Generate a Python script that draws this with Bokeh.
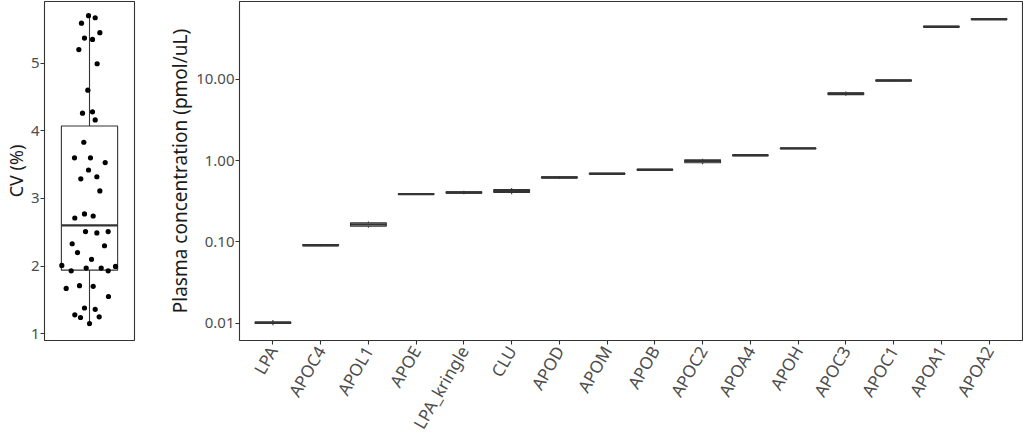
import numpy as np
from bokeh.plotting import figure
from bokeh.layouts import row
from bokeh.models import Range1d, FactorRange, FixedTicker, PrintfTickFormatter, ColumnDataSource
from bokeh.transform import dodge
from bokeh.embed import file_html
from bokeh.resources import INLINE

# ---- left panel: CV (%) ----
cv_values = [5.70, 5.67, 5.59, 5.45, 5.37, 5.35, 5.20, 4.99, 4.60, 4.26, 4.28, 4.16,
             3.83, 3.60, 3.60, 3.53, 3.42, 3.29, 3.32, 3.11, 2.71, 2.77, 2.74, 2.51,
             2.49, 2.51, 2.33, 2.30, 2.20, 2.10, 2.01, 1.97, 1.97, 1.995, 1.93, 1.93,
             1.67, 1.71, 1.70, 1.55, 1.38, 1.36, 1.28, 1.24, 1.25, 1.15]
cv_jitter = [-0.013, 0.076, -0.107, 0.138, -0.067, 0.04, -0.142, 0.102, -0.022, -0.093,
             0.04, 0.076, -0.076, -0.2, 0.013, 0.209, -0.013, -0.116, 0.098, 0.138,
             -0.196, -0.067, 0.049, -0.053, 0.098, 0.249, -0.231, 0.2, -0.16, 0.027,
             -0.369, -0.044, 0.156, 0.347, -0.244, 0.249, -0.311, -0.133, 0.049, 0.253,
             -0.067, 0.076, -0.196, -0.12, 0.129, 0.0]
cv_q1, cv_median, cv_q3 = 1.94, 2.60, 4.07
cv_low, cv_high = 1.15, 5.70
cv_ticks = [1, 2, 3, 4, 5]

# ---- right panel: plasma concentration ----
proteins = ["LPA", "APOC4", "APOL1", "APOE", "LPA_kringle", "CLU", "APOD", "APOM",
            "APOB", "APOC2", "APOA4", "APOH", "APOC3", "APOC1", "APOA1", "APOA2"]
conc_median = [0.0101, 0.091, 0.164, 0.386, 0.405, 0.421, 0.62, 0.689,
               0.77, 0.984, 1.16, 1.41, 6.64, 9.66, 44.3, 54.8]
conc_q1 = [0.0099, 0.0895, 0.156, 0.382, 0.398, 0.405, 0.61, 0.683,
           0.763, 0.94, 1.15, 1.40, 6.45, 9.55, 43.8, 54.2]
conc_q3 = [0.0103, 0.0925, 0.172, 0.390, 0.412, 0.44, 0.632, 0.695,
           0.778, 1.025, 1.17, 1.42, 6.82, 9.78, 44.8, 55.4]
conc_low = [0.0094, 0.0884, 0.149, 0.378, 0.385, 0.385, 0.595, 0.678,
            0.755, 0.90, 1.14, 1.39, 6.25, 9.45, 43.3, 53.6]
conc_high = [0.0109, 0.0935, 0.178, 0.394, 0.425, 0.46, 0.645, 0.70,
             0.785, 1.055, 1.18, 1.43, 7.05, 9.9, 45.3, 56.0]
conc_ticks = [0.01, 0.1, 1, 10]

FONT = "Noto Sans"
LINE = "#333333"
TICKTXT = "#4d4d4d"
TITLE = "#1a1a1a"


def style(p):
    p.xgrid.visible = False
    p.ygrid.visible = False
    p.outline_line_color = LINE
    p.outline_line_width = 1.1
    for ax in p.axis:
        ax.axis_line_color = None
        ax.major_tick_line_color = LINE
        ax.major_tick_line_width = 1.1
        ax.major_tick_out = 4
        ax.major_tick_in = 0
        ax.minor_tick_line_color = None
        ax.major_label_text_font = FONT
        ax.major_label_text_font_size = "15px"
        ax.major_label_text_color = TICKTXT
        ax.major_label_standoff = 1
        ax.axis_label_text_font = FONT
        ax.axis_label_text_font_size = "19px"
        ax.axis_label_text_font_style = "normal"
        ax.axis_label_text_color = TITLE
        ax.axis_label_standoff = 0


# left figure
p1 = figure(frame_width=90, frame_height=339,
            x_range=Range1d(0.4, 1.6), y_range=Range1d(0.9, 5.91),
            min_border_left=37, min_border_right=30, min_border_top=1, min_border_bottom=90,
            output_backend="svg", toolbar_location=None)
p1.segment(x0=[1], y0=[cv_low], x1=[1], y1=[cv_high], line_color=LINE, line_width=1.1)
p1.vbar(x=[1], width=0.75, bottom=[cv_q1], top=[cv_q3], fill_color="white",
        line_color=LINE, line_width=1.1)
p1.segment(x0=[0.625], y0=[cv_median], x1=[1.375], y1=[cv_median],
           line_color=LINE, line_width=2.2)
p1.scatter(x=[1 + j for j in cv_jitter], y=cv_values, size=5.2,
           fill_color="black", line_color=None)
p1.yaxis.ticker = FixedTicker(ticks=cv_ticks)
p1.yaxis.axis_label = "CV (%)"
style(p1)
p1.yaxis.axis_label_text_font_size = "18px"
p1.xaxis.visible = False

# right figure
src = ColumnDataSource(dict(protein=proteins, med=conc_median, q1=conc_q1, q3=conc_q3,
                            lo=conc_low, hi=conc_high))
p2 = figure(frame_width=783, frame_height=339,
            x_range=FactorRange(factors=proteins, range_padding=0.2, range_padding_units="absolute"),
            y_axis_type="log", y_range=Range1d(0.00612, 90.4),
            min_border_left=70, min_border_right=1, min_border_top=1, min_border_bottom=90,
            output_backend="svg", toolbar_location=None)
p2.segment(x0="protein", y0="lo", x1="protein", y1="hi", source=src,
           line_color=LINE, line_width=1.1)
p2.vbar(x="protein", width=0.75, bottom="q1", top="q3", source=src,
        fill_color="white", line_color=LINE, line_width=1.1)
p2.segment(x0=dodge("protein", -0.375, range=p2.x_range), y0="med",
           x1=dodge("protein", 0.375, range=p2.x_range), y1="med", source=src,
           line_color=LINE, line_width=2.4)
p2.yaxis.ticker = FixedTicker(ticks=conc_ticks)
p2.yaxis.formatter = PrintfTickFormatter(format="%.2f")
p2.yaxis.axis_label = "Plasma concentration (pmol/uL)"
style(p2)
p2.xaxis.major_label_orientation = np.pi / 3
p2.xaxis.major_label_text_font_size = "17px"
p2.xaxis.major_label_standoff = 3

layout = row(p1, p2, spacing=0)
open("out.html", "w").write(file_html(layout, INLINE))
